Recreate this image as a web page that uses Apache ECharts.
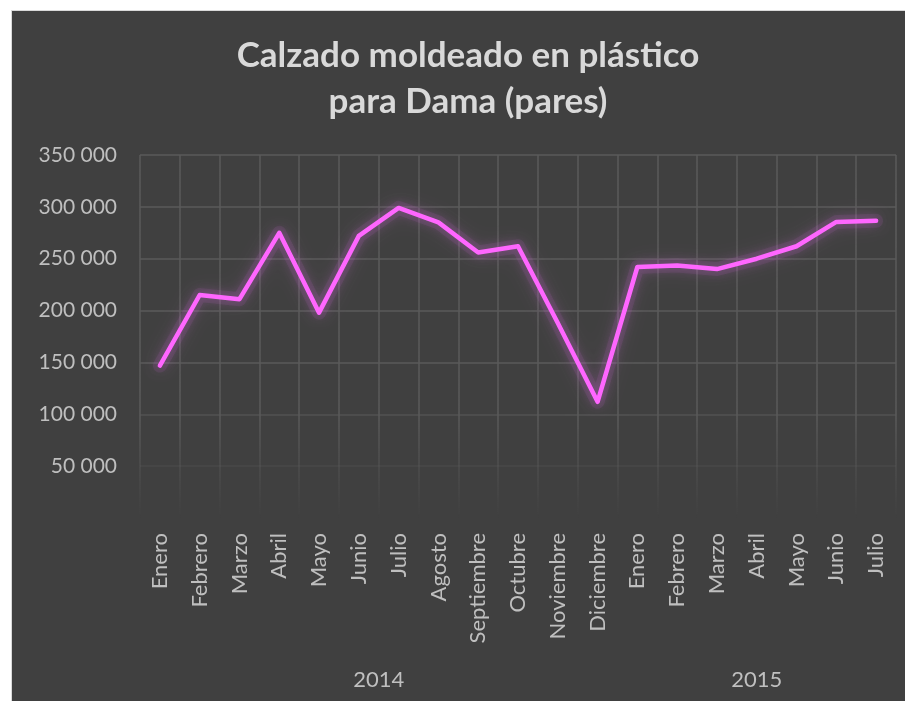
<!DOCTYPE html>
<html>
<head>
<meta charset="utf-8">
<script src="https://cdn.jsdelivr.net/npm/echarts@6/dist/echarts.min.js"></script>
<style>
  html, body { margin: 0; padding: 0; background: #ffffff; }
  #frame {
    position: absolute; left: 11px; top: 10px;
    width: 893px; height: 690px;
    border: 1px solid #d9d9d9;
    background: #404040;
  }
  #chart { width: 893px; height: 690px; }
</style>
</head>
<body>
<div id="frame"><div id="chart"></div></div>
<script>
// months, 2014 (12) + 2015 (7)
var months = [
  "Enero", "Febrero", "Marzo", "Abril", "Mayo", "Junio", "Julio",
  "Agosto", "Septiembre", "Octubre", "Noviembre", "Diciembre",
  "Enero", "Febrero", "Marzo", "Abril", "Mayo", "Junio", "Julio"
];
var pares = [
  147000, 215000, 211000, 275000, 198000, 272000, 299000,
  285000, 256000, 262000, 188000, 112000,
  242000, 243500, 240000, 250000, 262000, 285500, 286500
];
var years = ["2014", "2015"];
var yearSpans = [12, 7];

// centre of each year group, in category units
var yearCenters = [];
var acc = 0;
yearSpans.forEach(function(n) {
  yearCenters.push(acc + n / 2);
  acc += n;
});

var labelColor = "#bfbfbf";
var gridColor = "#5a5a5a";
var fontFamily = "Lato, 'Open Sans', sans-serif";

var chart = echarts.init(document.getElementById("chart"));

var option = {
  backgroundColor: "transparent",
  animation: false,
  title: {
    text: "Calzado moldeado en plástico\npara Dama (pares)",
    left: 451,
    top: 17,
    textAlign: "center",
    textStyle: {
      color: "#d9d9d9",
      fontFamily: fontFamily,
      fontWeight: "bold",
      fontSize: 35,
      lineHeight: 46
    }
  },
  grid: {
    left: 128,
    right: 9,
    top: 144,
    bottom: 183
  },
  xAxis: [
    {
      type: "category",
      data: months,
      boundaryGap: true,
      axisLine: { show: false },
      axisTick: { show: false },
      axisLabel: {
        rotate: 90,
        margin: 15,
        interval: 0,
        color: labelColor,
        fontFamily: fontFamily,
        fontSize: 22
      },
      splitLine: {
        show: true,
        interval: 0,
        lineStyle: {
          width: 1.5,
          color: {
            type: "linear",
            x: 0, y: 144, x2: 0, y2: 507,
            global: true,
            colorStops: [
              { offset: 0, color: gridColor },
              { offset: 0.72, color: gridColor },
              { offset: 1, color: "rgba(90,90,90,0)" }
            ]
          }
        }
      }
    },
    {
      type: "value",
      position: "bottom",
      min: 0,
      max: months.length,
      interval: 0.5,
      offset: 151,
      axisLine: { show: false },
      axisTick: { show: false },
      splitLine: { show: false },
      axisLabel: {
        margin: 0,
        color: labelColor,
        fontFamily: fontFamily,
        fontSize: 22,
        showMinLabel: true,
        showMaxLabel: true,
        formatter: function(v) {
          for (var i = 0; i < yearCenters.length; i++) {
            if (Math.abs(v - yearCenters[i]) < 1e-6) return years[i];
          }
          return "";
        }
      }
    }
  ],
  yAxis: {
    type: "value",
    min: 0,
    max: 350000,
    interval: 50000,
    axisLine: { show: false },
    axisTick: { show: false },
    axisLabel: {
      margin: 23,
      color: labelColor,
      fontFamily: fontFamily,
      fontSize: 21,
      formatter: function(v) {
        if (v === 0) return "";
        return String(v).replace(/\B(?=(\d{3})+(?!\d))/g, " ");
      }
    },
    splitLine: {
      show: true,
      lineStyle: {
        width: 1.5,
        color: [
          "rgba(90,90,90,0)",
          "rgba(90,90,90,0.35)",
          "rgba(90,90,90,0.7)",
          gridColor, gridColor, gridColor, gridColor, gridColor
        ]
      }
    }
  },
  series: [
    {
      // soft halo under the line
      type: "line",
      xAxisIndex: 0,
      data: pares,
      symbol: "none",
      silent: true,
      z: 1,
      lineStyle: {
        color: "rgba(190,100,200,0.12)",
        width: 14,
        cap: "round",
        join: "round",
        shadowColor: "rgba(190,100,200,0.55)",
        shadowBlur: 22
      }
    },
    {
      type: "line",
      xAxisIndex: 0,
      data: pares,
      symbol: "none",
      smooth: false,
      z: 2,
      lineStyle: {
        color: "#ff66ff",
        width: 4.5,
        cap: "round",
        join: "round",
        shadowColor: "rgba(220,110,230,0.5)",
        shadowBlur: 12
      }
    }
  ]
};

chart.setOption(option);
</script>
</body>
</html>
